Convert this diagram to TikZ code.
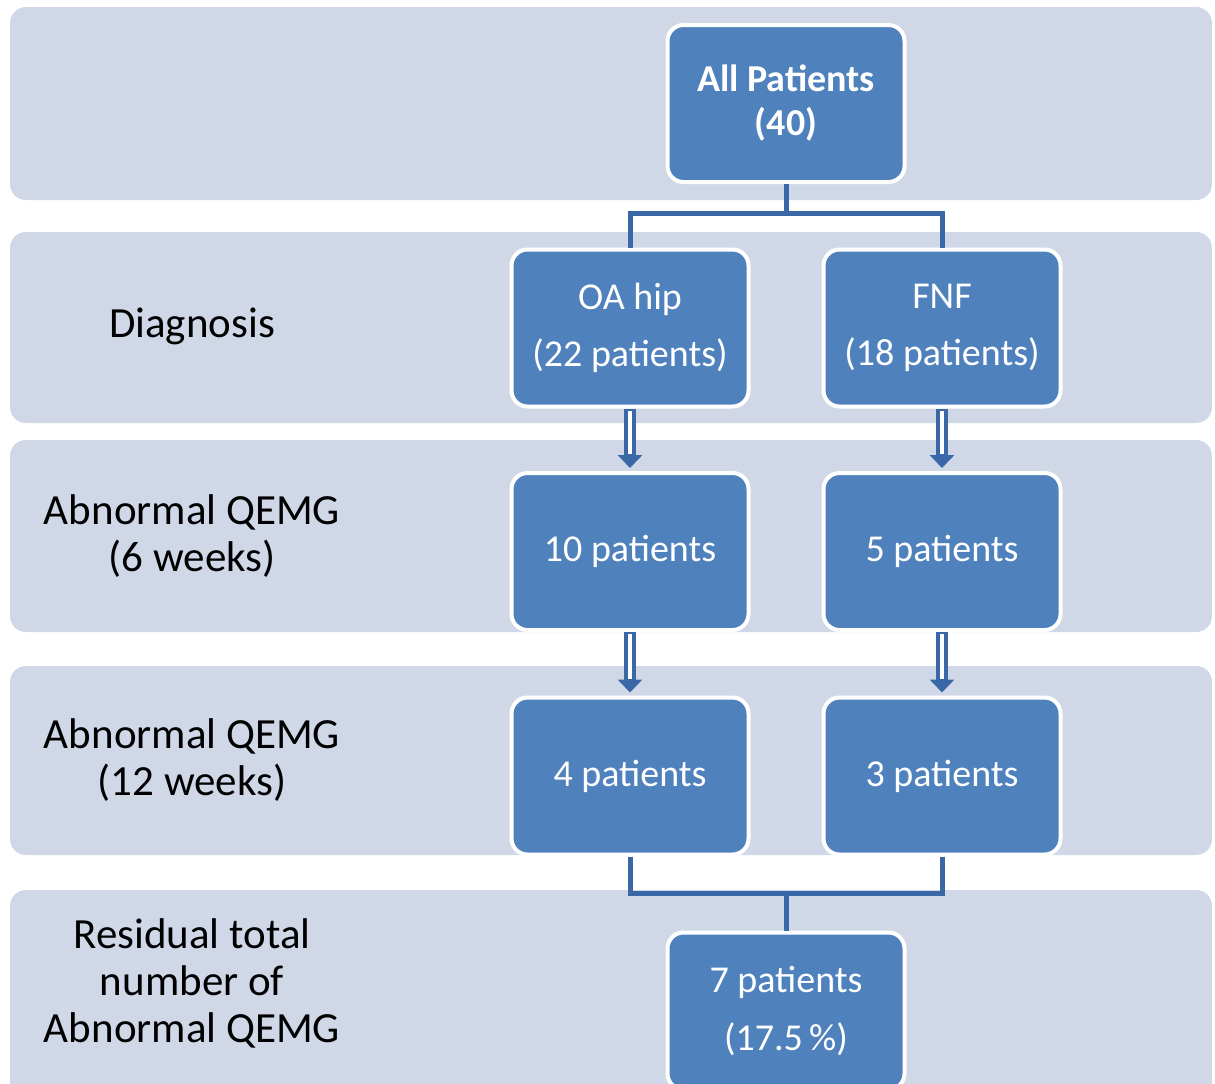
\documentclass[tikz,border=0pt]{standalone}
\usepackage{fontspec}
\setmainfont{Carlito}
\usetikzlibrary{arrows.meta}
\definecolor{bandc}{HTML}{D0D8E8}
\definecolor{boxblue}{HTML}{4F81BD}
\definecolor{connc}{HTML}{3A68A6}
\begin{document}
\begin{tikzpicture}[x=0.5pt,y=-0.5pt,
  bandbox/.style={fill=bandc, rounded corners=8pt},
  bluebox/.style={draw=white, line width=2pt, fill=boxblue, rounded corners=8pt,
    text=white, align=center, minimum width=118.5pt, minimum height=78.5pt, inner sep=0pt,
    font=\fontsize{19}{28.5}\selectfont},
  lab/.style={align=center, text=black, inner sep=0pt, font=\fontsize{21.5}{23.5}\selectfont},
  conn/.style={draw=connc, line width=2.5pt},
  dblouter/.style={draw=connc, line width=6pt, -{Triangle[width=12pt,length=6.5pt]}, shorten >=1.5pt},
  dblinner/.style={draw=white, line width=2pt, shorten >=8.5pt, shorten <=1pt}
]
\useasboundingbox (0,0) rectangle (1215,1083);
\fill[white] (0,0) rectangle (1215,1083);
% bands
\fill[bandbox] (10,7) rectangle (1212,200);
\fill[bandbox] (10,232) rectangle (1212,423);
\fill[bandbox] (10,440) rectangle (1212,632);
\fill[bandbox] (10,666) rectangle (1212,855);
\fill[bandbox] (10,890) rectangle (1212,1110);
% left labels
\node[lab] (l1) at (192,326) {Diagnosis};
\node[lab] (l2) at (192,536) {Abnormal QEMG\\(6 weeks)};
\node[lab] (l3) at (192,760) {Abnormal QEMG\\(12 weeks)};
\node[lab] (l4) at (192,983) {Residual total\\number of\\Abnormal QEMG};
% boxes
\node[bluebox, font=\fontsize{19}{22}\selectfont\bfseries] (all) at (786,103.5) {All Patients\\(40)};
\node[bluebox] (oa) at (630,328) {OA hip\\(22 patients)};
\node[bluebox] (fnf) at (942,328) {FNF\\(18 patients)};
\node[bluebox] (b10) at (630,551.5) {10 patients};
\node[bluebox] (b5) at (942,551.5) {5 patients};
\node[bluebox] (b4) at (630,776) {4 patients};
\node[bluebox] (b3) at (942,776) {3 patients};
\node[bluebox, font=\fontsize{19}{29}\selectfont] (tot) at (786,1011) {7 patients\\(17.5\,\%)};
% connectors
\coordinate (j1) at (786,213);
\coordinate (j2) at (786,893);
\draw[conn] (all.south) -- (j1);
\draw[conn] (oa.north) |- (j1);
\draw[conn] (fnf.north) |- (j1);
\foreach \a/\b in {oa/b10, fnf/b5, b10/b4, b5/b3}{
  \draw[dblouter] (\a.south) -- (\b.north);
  \draw[dblinner] (\a.south) -- (\b.north);
}
\draw[conn] (b4.south) |- (j2);
\draw[conn] (b3.south) |- (j2);
\draw[conn] (j2) -- (tot.north);
\end{tikzpicture}
\end{document}
